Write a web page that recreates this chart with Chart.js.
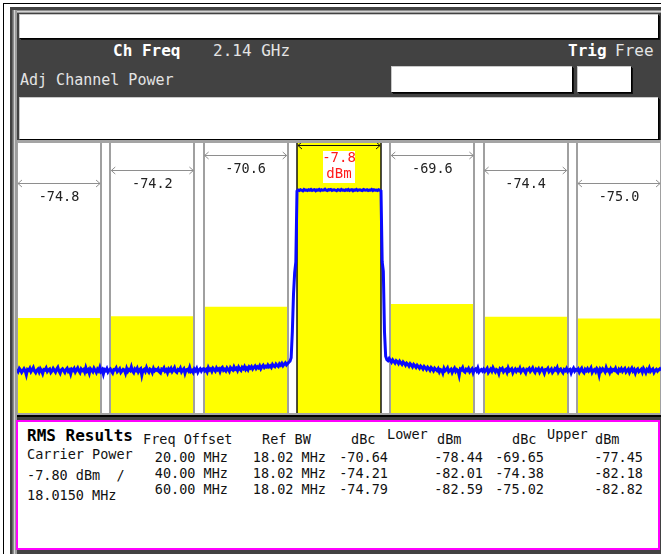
<!DOCTYPE html>
<html>
<head>
<meta charset="utf-8">
<script src="https://cdn.jsdelivr.net/npm/chart.js@4.4.1/dist/chart.umd.min.js"></script>
<style>
  html, body { margin: 0; padding: 0; background: #fff; }
  #screen {
    position: relative;
    width: 661px;
    height: 554px;
    overflow: hidden;
    font-family: "DejaVu Sans Mono", monospace;
  }
  .abs { position: absolute; white-space: pre; }
  .frame { left: 3px; top: 3px; width: 700px; height: 600px; border-left: 1px solid #000; border-top: 1px solid #000; }
  .panel { left: 10px; top: 7px; right: 0; bottom: 0; background: #424242; }
  .bevel-v { left: 12px; top: 10px; width: 5px; bottom: 0;
    background: linear-gradient(to right, #6a6a6a 0 1px, #8c8c8c 1px 2px, #d4d4d4 2px 3px, #9c9c9c 3px 5px); }
  .bevel-h { left: 12px; top: 10px; right: 0; height: 3px;
    background: linear-gradient(to bottom, #8c8c8c 0 1px, #d4d4d4 1px 2px, #9c9c9c 2px 3px); }
  .box {
    background: #fff;
    border-left: 1px solid #c8c8c8;
    border-top: 1px solid #c8c8c8;
    box-shadow: 1px 1px 0 #000, 2px 2px 0 #111;
    box-sizing: border-box;
  }
  .hdr { font-size: 16px; line-height: 18px; color: #e4e4e4; }
  .hdr b { color: #fff; }
  .plot-top { left: 17px; top: 140px; width: 644px; height: 3px; background: #a4a4a4; }
  .plot-bot1 { left: 17px; top: 413px; width: 644px; height: 2px; background: #a4a4a4; }
  .plot-bot2 { left: 17px; top: 415px; width: 644px; height: 2px; background: #000; }
  #plot { position: absolute; left: 17px; top: 143px; background: #fff; }
  .results {
    left: 16px; top: 420px; width: 644px; height: 130px;
    background: #fff; border: 2px solid #ff00ff; box-sizing: border-box;
  }
  .t { font-size: 13.5px; line-height: 16px; color: #111; }
  .title { font-size: 16px; line-height: 18px; font-weight: bold; color: #000; }
</style>
</head>
<body>
<div id="screen">
  <div class="abs frame"></div>
  <div class="abs panel"></div>
  <div class="abs bevel-h"></div>
  <div class="abs bevel-v"></div>

  <div class="abs box" style="left:19px;top:14px;width:639px;height:24px"></div>
  <div class="abs hdr" style="left:113px;top:42px"><b>Ch Freq</b></div>
  <div class="abs hdr" style="left:213px;top:42px">2.14 GHz</div>
  <div class="abs hdr" style="left:568px;top:42px"><b>Trig</b></div>
  <div class="abs hdr" style="left:615px;top:42px">Free</div>
  <div class="abs hdr" style="left:20px;top:71px;font-size:15px">Adj Channel Power</div>
  <div class="abs box" style="left:391px;top:66px;width:181px;height:26px"></div>
  <div class="abs box" style="left:577px;top:66px;width:54px;height:26px"></div>
  <div class="abs box" style="left:19px;top:97px;width:639px;height:42px"></div>

  <div class="abs plot-top"></div>
  <canvas id="plot" width="644" height="270"></canvas>
  <div class="abs plot-bot1"></div>
  <div class="abs plot-bot2"></div>

  <div class="abs results"></div>
</div>

<script>
// Measurement setup and results
const carrierPowerDbm = -7.80;
const carrierBwMHz = 18.015;
const freqOffsetsMHz = [20, 40, 60];
const refBwMHz = [18.02, 18.02, 18.02];
const lowerDbc = [-70.64, -74.21, -74.79];
const lowerDbm = [-78.44, -82.01, -82.59];
const upperDbc = [-69.648, -74.38, -75.02];
const upperDbm = [-77.45, -82.18, -82.82];

// Display span (offset from 2.14 GHz) and level range, dB
const spanMHz = [-69, 69];
const levelRange = [-110, -10];

// Swept trace, one reading every 0.25 MHz from -69 MHz (10 MHz per row)
const sweepStartMHz = -69;
const sweepStepMHz = 0.25;
const traceDb = [
  -93.8, -94.6, -93.5, -94.1, -95.0, -94.3, -93.6, -94.4, -95.9, -93.9, -94.2, -93.4, -94.7, -94.0, -93.2, -94.5, -95.1, -94.2, -93.7, -94.8,
  -93.6, -94.3, -95.4, -93.9, -94.1, -93.3, -94.6, -94.0, -93.7, -95.0, -94.4, -93.5, -94.2, -94.9, -93.8, -93.1, -94.5, -95.3, -94.0, -93.6,
  -94.3, -95.0, -93.9, -93.4, -94.6, -94.1, -95.5, -93.8, -94.2, -93.5, -94.8, -94.0, -93.3, -94.4, -95.1, -93.7, -94.3, -93.9, -94.9, -93.2,
  -94.5, -94.0, -95.3, -93.6, -94.1, -94.7, -93.4, -94.2, -95.0, -93.8, -94.4, -93.1, -94.6, -94.0, -95.6, -93.9, -94.3, -93.5, -94.8, -94.1,
  -93.7, -94.5, -95.2, -93.9, -94.0, -93.3, -94.7, -94.2, -93.6, -95.0, -94.4, -93.8, -94.1, -95.3, -93.5, -94.6, -93.9, -94.3, -92.9, -94.5,
  -95.1, -93.7, -94.2, -93.4, -94.8, -94.0, -93.6, -96.0, -94.1, -93.8, -94.6, -93.2, -94.3, -94.9, -93.7, -94.0, -95.0, -93.5, -94.4, -93.9,
  -94.2, -93.6, -94.8, -95.2, -93.8, -94.1, -93.3, -94.5, -94.0, -95.1, -93.7, -94.3, -93.5, -94.7, -94.0, -93.2, -94.6, -95.0, -93.9, -94.2,
  -93.4, -94.8, -94.1, -93.6, -95.3, -94.0, -93.8, -94.4, -93.1, -94.6, -94.2, -95.0, -93.7, -94.3, -93.5, -94.9, -94.0, -93.6, -94.5, -93.8,
  -93.6, -94.4, -93.9, -94.8, -93.2, -94.1, -93.7, -94.6, -93.4, -93.9, -94.5, -93.3, -94.0, -93.6, -94.7, -93.5, -93.1, -94.2, -93.8, -94.4,
  -93.3, -93.9, -94.6, -93.2, -93.7, -94.1, -92.9, -93.8, -93.4, -94.3, -93.0, -93.7, -94.2, -93.1, -93.6, -92.8, -93.9, -93.3, -94.0, -92.9,
  -93.4, -92.8, -93.7, -93.1, -92.6, -93.5, -92.9, -93.3, -92.5, -93.6, -92.8, -92.3, -93.2, -92.7, -93.0, -92.2, -92.9, -92.5, -93.1, -92.0,
  -92.6, -92.9, -91.9, -92.4, -92.8, -91.8, -92.3, -91.6, -92.5, -91.9, -91.4, -92.2, -91.7, -91.2, -90.8, -89.5, -80.0, -66.0, -58.0, -54.0,
  -27.8, -27.4, -27.6, -27.3, -27.5, -27.7, -27.2, -27.5, -27.4, -27.6, -27.3, -27.5, -27.2, -27.6, -27.4, -27.3, -27.7, -27.4, -27.5, -27.2,
  -27.6, -27.3, -27.5, -27.4, -27.1, -27.5, -27.6, -27.3, -27.4, -27.2, -27.6, -27.4, -27.3, -27.5, -27.7, -27.3, -27.4, -27.6, -27.2, -27.5,
  -27.4, -27.6, -27.3, -27.5, -27.2, -27.6, -27.4, -27.3, -27.7, -27.4, -27.5, -27.2, -27.6, -27.4, -27.3, -27.5, -27.6, -27.2, -27.4, -27.5,
  -27.3, -27.6, -27.4, -27.5, -27.2, -27.6, -27.3, -27.5, -27.4, -27.6, -27.3, -27.5, -27.8, -54.0, -57.5, -80.0, -89.0, -90.2, -90.6, -89.8,
  -90.5, -91.2, -90.3, -90.9, -91.5, -90.6, -91.0, -91.7, -90.8, -91.4, -92.0, -91.1, -91.6, -92.3, -91.5, -91.9, -92.6, -91.7, -92.2, -92.9,
  -92.0, -92.5, -93.1, -92.3, -92.8, -93.4, -92.6, -93.0, -93.7, -92.8, -93.3, -93.9, -93.0, -93.5, -94.2, -93.2, -93.7, -94.4, -93.4, -93.9,
  -94.3, -93.6, -94.8, -93.9, -94.1, -95.2, -93.5, -94.4, -94.0, -93.3, -94.7, -94.2, -93.8, -95.0, -94.1, -93.4, -94.6, -93.9, -94.3, -96.1,
  -93.7, -94.0, -93.2, -94.5, -94.9, -93.8, -94.2, -93.5, -94.7, -94.1, -93.6, -95.1, -94.0, -93.7, -94.4, -93.3, -94.8, -94.2, -93.9, -94.5,
  -93.8, -94.6, -94.0, -93.4, -95.0, -94.3, -93.7, -94.5, -93.2, -94.1, -94.8, -93.9, -94.2, -95.4, -93.6, -94.0, -93.5, -94.7, -94.1, -93.8,
  -94.9, -93.3, -94.4, -94.0, -93.6, -95.1, -94.2, -93.7, -94.6, -93.9, -94.3, -93.4, -94.8, -94.1, -93.7, -94.5, -95.2, -93.8, -94.0, -93.5,
  -94.6, -94.0, -93.3, -94.4, -95.0, -93.8, -94.2, -93.6, -94.9, -94.1, -93.5, -94.3, -95.3, -93.9, -94.0, -93.4, -94.7, -94.2, -93.7, -95.0,
  -94.4, -93.6, -94.1, -93.2, -94.8, -94.0, -93.7, -94.5, -95.1, -93.9, -94.3, -93.5, -94.6, -94.0, -93.8, -95.2, -94.1, -93.4, -94.5, -93.9,
  -94.2, -93.7, -94.9, -94.0, -93.4, -94.6, -95.1, -93.8, -94.3, -93.6, -94.5, -94.1, -93.3, -95.0, -94.2, -93.9, -94.7, -93.5, -94.0, -95.9,
  -93.8, -94.4, -93.6, -94.1, -94.8, -93.2, -94.3, -94.0, -95.0, -93.7, -94.5, -93.9, -94.2, -93.4, -94.7, -95.1, -93.8, -94.3, -93.6, -94.6,
  -94.0, -93.5, -94.8, -94.2, -93.7, -95.0, -94.1, -93.4, -94.5, -93.9, -95.2, -94.0, -93.6, -94.7, -94.3, -93.8, -94.9, -93.5, -94.2, -95.1,
  -93.9, -94.4, -93.3, -94.6, -94.1, -93.7, -95.0, -94.2, -93.8, -94.5, -94.0, -93.6, -94.3
];

// Channels: carrier at 0 dBc, offsets on both sides
const channels = [{ off: 0, bw: carrierBwMHz, dbc: 0, carrier: true }];
freqOffsetsMHz.forEach((f, i) => {
  channels.push({ off: -f, bw: refBwMHz[i], dbc: lowerDbc[i], ring: i + 1 });
  channels.push({ off: f, bw: refBwMHz[i], dbc: upperDbc[i], ring: i + 1 });
});

const tracePoints = traceDb.map((v, i) => ({ x: sweepStartMHz + i * sweepStepMHz, y: v }));

const datasets = [{
  data: tracePoints,
  borderColor: "#0a0aff",
  borderWidth: 3,
  pointRadius: 0,
  fill: false,
  tension: 0,
}];
for (const ch of channels) {
  datasets.push({
    data: [{ x: ch.off - ch.bw / 2, y: ch.dbc }, { x: ch.off + ch.bw / 2, y: ch.dbc }],
    borderWidth: 0,
    pointRadius: 0,
    backgroundColor: "#ffff00",
    fill: "start",
  });
}

// arrow heights below the plot top, by distance from the carrier
const ARROW_ROW = [2, 12, 27, 40];

function drawArrow(ctx, x1, x2, y, color) {
  ctx.strokeStyle = color;
  ctx.lineWidth = 1;
  ctx.beginPath();
  ctx.moveTo(x1 + 1, y + 0.5);
  ctx.lineTo(x2 - 1, y + 0.5);
  ctx.moveTo(x1 + 5, y - 3);
  ctx.lineTo(x1 + 1, y + 0.5);
  ctx.lineTo(x1 + 5, y + 4);
  ctx.moveTo(x2 - 5, y - 3);
  ctx.lineTo(x2 - 1, y + 0.5);
  ctx.lineTo(x2 - 5, y + 4);
  ctx.stroke();
}

const channelMarks = {
  id: "channelMarks",
  afterDatasetDraw(chart, args) {
    // channel edges go over the fills, under the trace
    if (args.index !== 1) return;
    const { ctx, chartArea } = chart;
    const xs = chart.scales.x;
    ctx.save();
    for (const ch of channels) {
      for (const f of [ch.off - ch.bw / 2, ch.off + ch.bw / 2]) {
        const px = Math.round(xs.getPixelForValue(f));
        ctx.strokeStyle = ch.carrier ? "#111" : "#a0a0a0";
        ctx.lineWidth = ch.carrier ? 1.5 : 2;
        ctx.beginPath();
        ctx.moveTo(px, chartArea.top);
        ctx.lineTo(px, chartArea.bottom);
        ctx.stroke();
      }
    }
    ctx.restore();
  },
  afterDraw(chart) {
    const { ctx, chartArea } = chart;
    const xs = chart.scales.x;
    ctx.save();
    ctx.textAlign = "center";
    ctx.textBaseline = "middle";
    for (const ch of channels) {
      const x1 = xs.getPixelForValue(ch.off - ch.bw / 2);
      const x2 = xs.getPixelForValue(ch.off + ch.bw / 2);
      const cx = (x1 + x2) / 2;
      if (ch.carrier) {
        const y = chartArea.top + ARROW_ROW[0];
        drawArrow(ctx, x1, x2, y, "#111");
        ctx.fillStyle = "#fff";
        ctx.fillRect(cx - 16, chartArea.top + 8, 32, 32);
        ctx.fillStyle = "#ff1a1a";
        ctx.font = "14px 'DejaVu Sans Mono'";
        ctx.fillText(carrierPowerDbm.toFixed(1), cx, chartArea.top + 15);
        ctx.fillText("dBm", cx, chartArea.top + 31);
      } else {
        const y = chartArea.top + ARROW_ROW[ch.ring];
        drawArrow(ctx, x1, x2, y, "#8e8e8e");
        ctx.fillStyle = "#222";
        ctx.font = "13.5px 'DejaVu Sans Mono'";
        ctx.fillText(ch.dbc.toFixed(1), cx, y + 14);
      }
    }
    ctx.restore();
  },
};

new Chart(document.getElementById("plot"), {
  type: "line",
  data: { datasets },
  options: {
    responsive: false,
    animation: false,
    events: [],
    layout: { padding: 0 },
    plugins: { legend: { display: false }, tooltip: { enabled: false } },
    scales: {
      x: { type: "linear", min: spanMHz[0], max: spanMHz[1], display: false },
      y: { type: "linear", min: levelRange[0], max: levelRange[1], display: false },
    },
  },
  plugins: [channelMarks],
});

// RMS results table
const screen = document.getElementById("screen");
function put(text, cls, x, cy, alignRight) {
  const el = document.createElement("div");
  el.className = "abs " + cls;
  el.textContent = text;
  const lh = cls === "title" ? 18 : 16;
  el.style.top = (cy - lh / 2) + "px";
  if (alignRight) el.style.right = (661 - x) + "px";
  else el.style.left = x + "px";
  screen.appendChild(el);
}

put("RMS Results", "title", 27, 436);
put("Freq Offset", "t", 143, 439);
put("Ref BW", "t", 262, 439);
put("dBc", "t", 351, 439);
put("Lower", "t", 387, 434);
put("dBm", "t", 437, 439);
put("dBc", "t", 512, 439);
put("Upper", "t", 547, 434);
put("dBm", "t", 595, 439);

put("Carrier Power", "t", 27, 454);
put(carrierPowerDbm.toFixed(2) + " dBm  /", "t", 27, 475);
put(carrierBwMHz.toFixed(4) + " MHz", "t", 27, 495);

const rowY = [457, 473, 489];
freqOffsetsMHz.forEach((f, i) => {
  const y = rowY[i];
  put(f.toFixed(2) + " MHz", "t", 228, y, true);
  put(refBwMHz[i].toFixed(2) + " MHz", "t", 326, y, true);
  put(lowerDbc[i].toFixed(2), "t", 388, y, true);
  put(lowerDbm[i].toFixed(2), "t", 483, y, true);
  put(upperDbc[i].toFixed(2), "t", 544, y, true);
  put(upperDbm[i].toFixed(2), "t", 643, y, true);
});
</script>
</body>
</html>
